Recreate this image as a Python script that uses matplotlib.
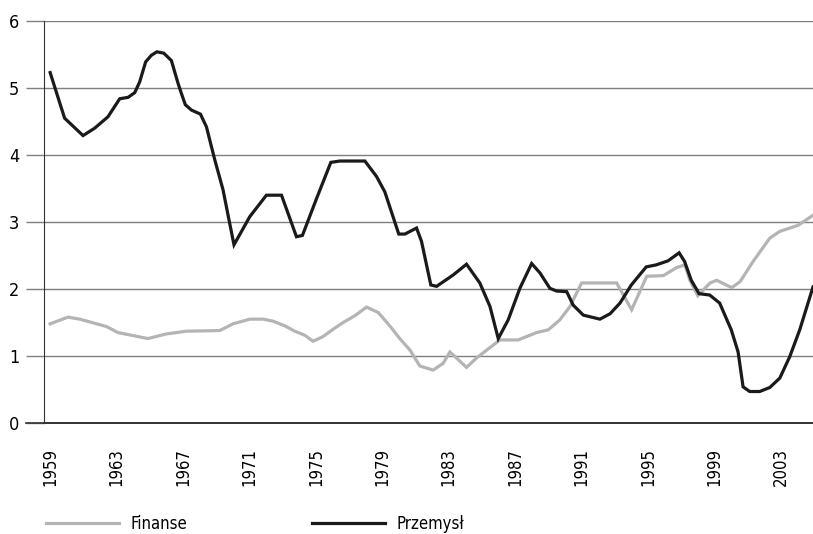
import matplotlib
matplotlib.use('Agg')
import matplotlib.pyplot as plt

plt.rcParams['font.family'] = ['DejaVu Sans']
plt.rcParams['font.stretch'] = 'condensed'

# Przemysł (black line)
przemysl_x = [1959.0, 1959.87, 1960.98, 1961.68, 1962.48, 1963.19, 1963.69, 1964.09, 1964.39,
              1964.75, 1965.10, 1965.43, 1965.84, 1966.30, 1966.50, 1966.70, 1966.90, 1967.14,
              1967.51, 1968.05, 1968.41, 1968.91, 1969.41, 1969.81, 1970.07, 1971.02, 1972.02,
              1972.93, 1973.83, 1974.19, 1975.04, 1975.90, 1976.44, 1977.95, 1978.65, 1979.15,
              1979.99, 1980.36, 1981.06, 1981.36, 1981.92, 1982.27, 1983.27, 1984.07, 1984.87,
              1985.48, 1985.98, 1986.58, 1987.28, 1987.99, 1988.49, 1989.09, 1989.49, 1990.10,
              1990.49, 1991.10, 1992.10, 1992.71, 1993.31, 1993.99, 1994.89, 1995.49, 1996.20,
              1996.87, 1997.20, 1997.60, 1998.07, 1998.71, 1999.31, 2000.01, 2000.42, 2000.72,
              2001.12, 2001.72, 2002.33, 2002.93, 2003.53, 2004.13, 2004.93]
przemysl_y = [5.23, 4.55, 4.29, 4.40, 4.57, 4.84, 4.86, 4.93, 5.09,
              5.39, 5.49, 5.54, 5.52, 5.41, 5.24, 5.07, 4.92, 4.75,
              4.67, 4.61, 4.42, 3.93, 3.48, 2.98, 2.66, 3.08, 3.40,
              3.40, 2.78, 2.80, 3.35, 3.89, 3.91, 3.91, 3.68, 3.45,
              2.82, 2.82, 2.91, 2.71, 2.06, 2.04, 2.21, 2.37, 2.09,
              1.74, 1.26, 1.54, 2.01, 2.38, 2.24, 2.01, 1.97, 1.96,
              1.76, 1.61, 1.55, 1.63, 1.79, 2.06, 2.33, 2.36, 2.42,
              2.54, 2.41, 2.13, 1.93, 1.91, 1.79, 1.39, 1.06, 0.54,
              0.47, 0.47, 0.53, 0.67, 0.99, 1.39, 2.03]

# Finanse (grey line)
finanse_x = [1959.0, 1960.07, 1960.78, 1962.39, 1963.08, 1964.89, 1966.0, 1967.2, 1969.21,
             1970.01, 1971.02, 1971.82, 1972.42, 1973.13, 1973.73, 1974.33, 1974.83, 1975.43,
             1976.04, 1976.64, 1977.34, 1978.05, 1978.75, 1979.45, 1980.05, 1980.66, 1981.26,
             1982.06, 1982.66, 1983.07, 1984.07, 1984.67, 1986.08, 1987.18, 1988.29, 1988.99,
             1989.69, 1990.30, 1991.0, 1993.11, 1994.01, 1994.92, 1995.92, 1996.72, 1997.22,
             1997.52, 1997.99, 1998.73, 1999.13, 2000.04, 2000.54, 2001.32, 2002.33, 2002.93,
             2004.03, 2004.93]
finanse_y = [1.48, 1.58, 1.55, 1.44, 1.35, 1.26, 1.33, 1.37, 1.38,
             1.48, 1.55, 1.55, 1.52, 1.45, 1.37, 1.31, 1.22, 1.29,
             1.40, 1.50, 1.60, 1.73, 1.65, 1.45, 1.26, 1.09, 0.85,
             0.79, 0.89, 1.06, 0.83, 0.97, 1.24, 1.24, 1.35, 1.39,
             1.54, 1.74, 2.09, 2.09, 1.69, 2.19, 2.20, 2.32, 2.36,
             2.13, 1.90, 2.09, 2.13, 2.02, 2.11, 2.41, 2.76, 2.86,
             2.95, 3.10]

year_ticks = list(range(1959, 2004, 4))
y_ticks = [0, 1, 2, 3, 4, 5, 6]

fig = plt.figure(figsize=(8.13, 5.34), dpi=100)
ax = fig.add_axes([44 / 813, 111 / 534, 1 - 44 / 813, 402 / 534])

ax.plot(finanse_x, finanse_y, color='#b4b4b4', lw=2.3, label='Finanse', solid_joinstyle='miter')
ax.plot(przemysl_x, przemysl_y, color='#1a1a1a', lw=2.3, label='Przemysł', solid_joinstyle='miter')

ax.set_xlim(1958.63, 2004.93)
ax.set_ylim(0, 6)
ax.set_yticks(y_ticks)
ax.set_xticks(year_ticks)
ax.set_xticklabels([str(y) for y in year_ticks], rotation=90, fontsize=12)
ax.tick_params(axis='x', length=0, pad=18)
ax.tick_params(axis='y', length=13, width=1, color='#7f7f7f', direction='out', pad=5, labelsize=13)
ax.yaxis.grid(True, color='#7f7f7f', lw=1)
ax.set_axisbelow(True)

for s in ['top', 'right']:
    ax.spines[s].set_visible(False)
ax.spines['left'].set_color('#333333')
ax.spines['bottom'].set_color('#333333')
ax.spines['bottom'].set_linewidth(1.2)
# extend the zero line to the left like the other gridlines
ax.axhline(0, xmin=-18 / 769, xmax=1, color='#333333', lw=1.2, clip_on=False)

fig.legend(loc='center left', bbox_to_anchor=(46 / 813, 10 / 534), ncol=2, frameon=False,
           fontsize=12, handlelength=4.4, handletextpad=0.66, columnspacing=7.5, borderpad=0,
           borderaxespad=0)

fig.savefig('out.png', dpi=100)
